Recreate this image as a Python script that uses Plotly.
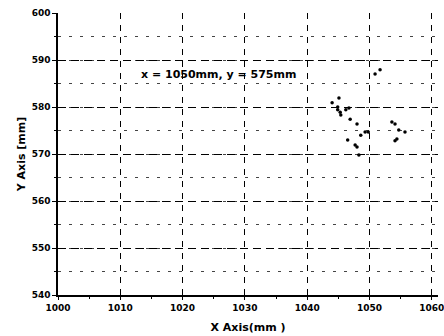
import plotly.graph_objects as go

x_vals = [1050.9, 1051.7, 1045.1, 1044.0, 1044.9, 1044.9, 1045.3, 1045.4, 1046.2, 1046.7,
          1046.9, 1048.0, 1049.3, 1049.8, 1048.6, 1046.5, 1047.7, 1048.0, 1048.3,
          1053.6, 1054.1, 1054.7, 1055.7, 1054.4, 1054.1]
y_vals = [587.0, 587.9, 581.9, 580.9, 580.0, 579.4, 578.9, 578.3, 579.4, 579.8,
          577.4, 576.4, 574.7, 574.7, 574.0, 573.0, 571.9, 571.5, 569.8,
          576.8, 576.4, 575.1, 574.7, 573.2, 572.8]

x_ticks = [1000, 1010, 1020, 1030, 1040, 1050, 1060]
y_ticks = [540, 550, 560, 570, 580, 590, 600]
annotation_text = "x = 1050mm, y = 575mm"

font_family = "DejaVu Sans, sans-serif"

fig = go.Figure()
fig.add_trace(go.Scatter(x=x_vals, y=y_vals, mode="markers",
                         marker=dict(color="black", size=3.5), showlegend=False))

fig.add_annotation(x=1025.8, y=587, text=annotation_text, showarrow=False,
                   font=dict(size=11, color="black", family=font_family, weight="bold"))

fig.update_layout(
    width=444, height=336,
    margin=dict(l=58, r=6, t=13, b=41),
    paper_bgcolor="white", plot_bgcolor="white",
    font=dict(family=font_family, color="black"),
)
fig.update_xaxes(
    range=[1000, 1061], tickvals=x_ticks, automargin=False, ticklabeloverflow="allow",
    tickfont=dict(size=9, weight="bold"), showline=True, linecolor="black", linewidth=1.5,
    ticks="outside", ticklen=3, tickcolor="black",
    showgrid=True, gridcolor="black", gridwidth=1.3, griddash="6px,6px", zeroline=False,
    minor=dict(dtick=5, ticks="outside", ticklen=2, tickcolor="black", showgrid=False),
    title=dict(text="X Axis(mm )", font=dict(size=11, weight="bold"), standoff=12),
)
fig.update_yaxes(
    range=[540, 600], tickvals=y_ticks, automargin=False,
    tickfont=dict(size=9, weight="bold"), showline=True, linecolor="black", linewidth=1.5,
    ticks="outside", ticklen=4, tickcolor="black",
    showgrid=True, gridcolor="black", gridwidth=1.3, griddash="8px,5px", zeroline=False,
    minor=dict(dtick=5, ticks="outside", ticklen=2, tickcolor="black",
               showgrid=True, gridcolor="#444444", gridwidth=1, griddash="3px,8px"),
    title=dict(text="Y Axis [mm]", font=dict(size=11, weight="bold"), standoff=4),
)

fig.write_html("out.html", config={"displayModeBar": False},
               post_script="document.body.style.margin='0px';")
